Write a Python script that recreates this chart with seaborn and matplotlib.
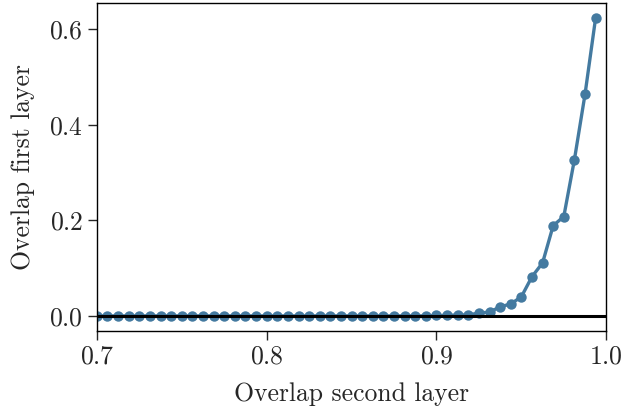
import matplotlib
matplotlib.use("Agg")
import matplotlib.pyplot as plt
import seaborn as sns
import numpy as np
import pandas as pd

# overlap of second layer (x) vs first layer (y)
overlap_second = [0.7 + 0.00625 * i for i in range(48)]
overlap_first = [0.0] * 32 + [0.001, 0.001, 0.002, 0.002, 0.006, 0.008,
                              0.019, 0.025, 0.040, 0.082, 0.111, 0.189,
                              0.208, 0.327, 0.464, 0.624]

df = pd.DataFrame({"second": overlap_second, "first": overlap_first})

sns.set_style("ticks")
plt.rcParams["font.family"] = ["cmr10", "DejaVu Serif"]
plt.rcParams["axes.formatter.use_mathtext"] = True
plt.rcParams["mathtext.fontset"] = "cm"

LINE_COLOR = "#447AA0"
FS = 18.5

fig = plt.figure(figsize=(6.25, 4.13), dpi=100)
ax = fig.add_axes([0.155, 0.199, 0.815, 0.794])

sns.lineplot(data=df, x="second", y="first", ax=ax, color=LINE_COLOR,
             linewidth=2.4, marker="o", markersize=7.5,
             markeredgewidth=0, zorder=2)
ax.axhline(0, color="black", linewidth=2.2, zorder=3)

ax.set_xlim(0.7, 1.0)
ax.set_xticks([0.7, 0.8, 0.9, 1.0])
ax.set_yticks([0.0, 0.2, 0.4, 0.6])
ax.set_xlabel("Overlap second layer", fontsize=FS, labelpad=10)
ax.set_ylabel("Overlap first layer", fontsize=FS, labelpad=10)
ax.tick_params(labelsize=FS, length=6.5, width=1.0, direction="out")
for s in ax.spines.values():
    s.set_linewidth(1.0)
    s.set_color("black")

fig.savefig("out.png", dpi=100)
